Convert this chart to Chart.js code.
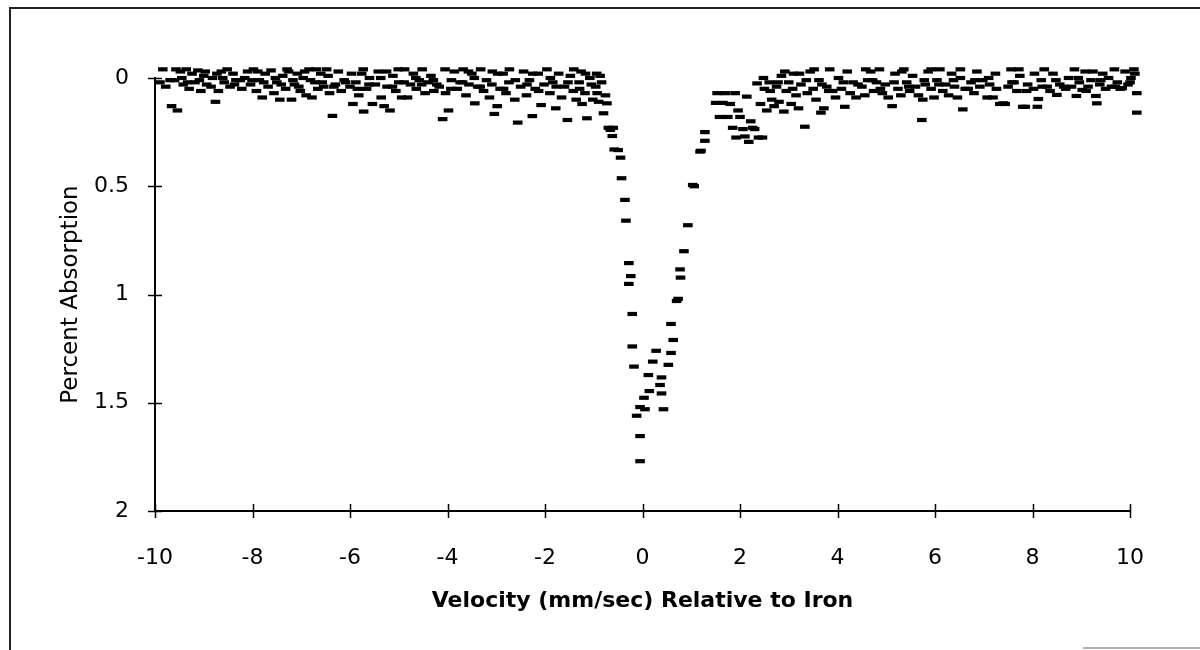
<!DOCTYPE html>
<html>
<head>
<meta charset="utf-8">
<title>Percent Absorption vs Velocity</title>
<script src="https://cdn.jsdelivr.net/npm/chart.js@4.4.1/dist/chart.umd.min.js"></script>
<style>
  html, body { margin: 0; padding: 0; background: #fff; }
  #wrap { width: 1200px; height: 650px; position: relative; }
</style>
</head>
<body>
<div id="wrap"><canvas id="chart" width="1200" height="650"></canvas></div>
<script>
// ===================================
// DATA
// ===================================
const xTicks = [-10, -8, -6, -4, -2, 0, 2, 4, 6, 8, 10];
const yTicks = [0, 0.5, 1, 1.5, 2];

// velocity in mm/sec
const velocity = [
  -9.90, -9.84, -9.78, -9.72, -9.66, -9.60, -9.54, -9.48, -9.42, -9.36,
  -9.30, -9.24, -9.18, -9.12, -9.06, -9.00, -8.94, -8.88, -8.82, -8.76,
  -8.70, -8.64, -8.58, -8.52, -8.46, -8.40, -8.34, -8.28, -8.22, -8.16,
  -8.10, -8.04, -7.98, -7.92, -7.86, -7.80, -7.74, -7.68, -7.62, -7.56,
  -7.50, -7.44, -7.38, -7.32, -7.26, -7.20, -7.14, -7.08, -7.02, -6.96,
  -6.90, -6.84, -6.78, -6.72, -6.66, -6.60, -6.54, -6.48, -6.42, -6.36,
  -6.30, -6.24, -6.18, -6.12, -6.06, -6.00, -5.94, -5.88, -5.82, -5.76,
  -5.72, -5.66, -5.60, -5.54, -5.48, -5.42, -5.36, -5.30, -5.24, -5.18,
  -5.12, -5.06, -5.00, -4.94, -4.88, -4.82, -4.76, -4.70, -4.64, -4.58,
  -4.52, -4.46, -4.40, -4.34, -4.28, -4.22, -4.16, -4.10, -4.04, -3.98,
  -3.92, -3.86, -3.80, -3.74, -3.68, -3.62, -3.56, -3.50, -3.44, -3.38,
  -3.32, -3.26, -3.20, -3.14, -3.08, -3.04, -2.98, -2.92, -2.86, -2.80,
  -2.74, -2.68, -2.62, -2.56, -2.50, -2.44, -2.38, -2.32, -2.26, -2.20,
  -2.14, -2.08, -2.02, -1.96, -1.90, -1.84, -1.78, -1.72, -1.66, -1.60,
  -1.54, -1.48, -1.42, -1.36, -1.30, -1.26, -1.24, -1.18, -1.14, -1.08,
  -1.02, -0.96, -0.94, -0.90, -0.84, -0.80, -0.76, -0.73, -0.70, -0.66,
  -0.62, -0.60, -0.58, -0.50, -0.45, -0.43, -0.36, -0.34, -0.28, -0.24,
  -0.28, -0.21, -0.21, -0.175, -0.12, -0.05, -0.05, -0.05, 0.03, 0.05,
  0.12, 0.14, 0.21, 0.28, 0.36, 0.39, 0.39, 0.43, 0.53, 0.585,
  0.585, 0.63, 0.70, 0.73, 0.77, 0.78, 0.85, 0.93, 1.03, 1.06,
  1.18, 1.20, 1.28, 1.28, 1.50, 1.53, 1.58, 1.65, 1.70, 1.75,
  1.80, 1.85, 1.90, 1.92, 1.96, 2.00, 2.06, 2.10, 2.14, 2.18,
  2.22, 2.26, 2.30, 2.35, 2.38, 2.42, 2.46, 2.50, 2.55, 2.60,
  2.65, 2.70, 2.75, 2.80, 2.85, 2.90, 2.95, 3.00, 3.05, 3.10,
  3.15, 3.20, 3.25, 3.33, 3.38, 3.44, 3.50, 3.56, 3.62, 3.66,
  3.72, 3.78, 3.84, 3.90, 3.96, 4.02, 4.08, 4.15, 4.20, 4.26,
  4.32, 4.38, 4.44, 4.50, 4.56, 4.62, 4.68, 4.74, 4.80, 4.86,
  4.92, 4.98, 5.04, 5.12, 5.18, 5.24, 5.30, 5.36, 5.42, 5.48,
  5.54, 5.60, 5.66, 5.73, 5.75, 5.80, 5.86, 5.92, 5.98, 6.04,
  6.10, 6.16, 6.22, 6.28, 6.34, 6.40, 6.46, 6.52, 6.57, 6.62,
  6.68, 6.74, 6.80, 6.86, 6.92, 6.98, 7.04, 7.07, 7.12, 7.19,
  7.24, 7.33, 7.40, 7.44, 7.50, 7.56, 7.62, 7.68, 7.74, 7.80,
  7.85, 7.90, 7.96, 8.02, 8.10, 8.12, 8.18, 8.24, 8.30, 8.36,
  8.42, 8.50, 8.56, 8.62, 8.68, 8.74, 8.80, 8.86, 8.90, 8.96,
  9.02, 9.08, 9.14, 9.20, 9.26, 9.30, 9.32, 9.38, 9.44, 9.50,
  9.56, 9.62, 9.68, 9.74, 9.80, 9.84, 9.90, 9.96, 10.02, 10.08,
  10.14, 10.14,
  // overlapping channels in the dense baseline band
  -9.81, -9.69, -9.57, -9.45, -9.33, -9.21, -9.09, -8.97, -8.85, -8.73,
  -8.61, -8.49, -8.37, -8.25, -8.13, -8.01, -7.89, -7.77, -7.65, -7.53,
  -7.41, -7.29, -7.17, -7.05, -6.93, -6.81, -6.69, -6.57, -6.45, -6.33,
  -6.21, -6.09, -5.97, -5.85, -5.73, -5.61, -5.49, -5.37, -5.25, -5.13,
  -5.01, -4.89, -4.77, -4.65, -4.53, -4.41, -4.29, -4.17, -4.05, -3.93,
  -3.81, -3.69, -3.57, -3.45, -3.33, -3.21, -3.09, -2.97, -2.85, -2.73,
  -2.61, -2.49, -2.37, -2.25, -2.13, -2.01, -1.89, -1.77, -1.65, -1.53,
  -1.41, -1.29, -1.17, -1.05, -0.93, -0.87,
  2.48, 2.62, 2.78, 2.92, 3.08, 3.22, 3.36, 3.52, 3.68, 3.82,
  3.98, 4.12, 4.28, 4.42, 4.58, 4.72, 4.88, 5.02, 5.16, 5.32,
  5.46, 5.62, 5.78, 5.92, 6.08, 6.22, 6.38, 6.52, 6.68, 6.82,
  6.96, 7.10, 7.26, 7.42, 7.58, 7.72, 7.88, 8.04, 8.20, 8.34,
  8.48, 8.64, 8.78, 8.94, 9.10, 9.24, 9.40, 9.54, 9.70, 9.86,
  10.00, 10.10
];

// percent absorption (axis runs downward)
const absorption = [
  0.02, -0.04, 0.04, -0.045, 0.13, 0.01, 0.15, -0.03, 0.03, -0.04,
  0.05, -0.02, 0.02, -0.035, 0.06, -0.01, 0.03, -0.045, 0.00, 0.11,
  0.06, -0.03, 0.02, -0.04, 0.04, -0.02, 0.01, -0.045, 0.05, 0.00,
  -0.03, 0.03, -0.04, 0.06, 0.01, 0.09, -0.02, 0.04, -0.035, 0.07,
  0.02, 0.10, -0.01, 0.05, -0.03, 0.10, 0.03, -0.02, 0.06, 0.00,
  0.08, -0.04, 0.09, 0.02, 0.05, -0.02, 0.04, -0.04, 0.07, 0.175,
  0.03, -0.03, 0.06, 0.01, -0.045, 0.04, 0.12, 0.02, 0.08, -0.02,
  0.155, 0.05, 0.00, 0.12, 0.03, -0.03, 0.09, 0.13, 0.04, 0.15,
  -0.01, 0.06, 0.02, 0.09, -0.04, 0.09, 0.03, -0.02, 0.05, 0.01,
  -0.04, 0.07, 0.02, -0.01, 0.06, 0.03, -0.045, 0.19, 0.07, 0.15,
  0.01, -0.03, 0.05, 0.02, -0.04, 0.08, 0.03, -0.02, 0.117, 0.04,
  -0.04, 0.06, 0.01, 0.09, -0.03, 0.166, 0.13, 0.05, -0.02, 0.07,
  0.02, -0.045, 0.10, 0.206, 0.04, -0.03, 0.08, 0.01, 0.176, 0.05,
  -0.02, 0.125, 0.03, -0.04, 0.07, 0.02, 0.14, -0.02, 0.09, 0.04,
  0.194, -0.01, 0.06, 0.10, 0.02, -0.03, 0.12, 0.07, 0.186, 0.00,
  0.10, 0.04, -0.02, 0.11, 0.02, 0.163, 0.08, 0.117, 0.23, 0.24,
  0.268, 0.23, 0.33, 0.333, 0.368, 0.463, 0.563, 0.659, 0.855, 0.915,
  0.951, 1.09, 1.24, 1.333, 1.56, 1.52, 1.654, 1.77, 1.477, 1.53,
  1.372, 1.446, 1.31, 1.26, 1.418, 1.383, 1.457, 1.53, 1.325, 1.136,
  1.27, 1.21, 1.03, 1.02, 0.884, 0.922, 0.80, 0.68, 0.494, 0.50,
  0.34, 0.336, 0.29, 0.25, 0.115, 0.07, 0.18, 0.115, 0.07, 0.18,
  0.12, 0.23, 0.07, 0.275, 0.15, 0.18, 0.236, 0.27, 0.086, 0.295,
  0.20, 0.23, 0.236, 0.025, 0.275, 0.12, 0.275, 0.05, 0.15, 0.02,
  0.10, 0.13, 0.04, 0.11, -0.01, 0.155, 0.06, 0.02, 0.12, -0.02,
  0.08, 0.14, 0.03, 0.225, 0.07, -0.03, 0.05, 0.10, 0.01, 0.16,
  0.14, 0.04, -0.04, 0.06, 0.09, 0.00, 0.05, 0.133, -0.03, 0.07,
  0.02, 0.09, -0.045, 0.04, 0.08, 0.01, -0.03, 0.06, 0.02, -0.04,
  0.07, 0.03, 0.09, 0.13, -0.02, 0.05, 0.08, -0.04, 0.02, 0.06,
  -0.01, 0.04, 0.08, 0.194, 0.10, 0.03, -0.03, 0.05, 0.09, 0.01,
  -0.04, 0.06, 0.03, 0.08, -0.02, 0.04, 0.09, 0.00, 0.145, 0.05,
  -0.05, 0.02, 0.07, -0.03, 0.04, 0.01, -0.05, 0.09, 0.03, 0.09,
  -0.02, 0.12, 0.117, 0.12, 0.04, -0.04, 0.02, 0.06, -0.01, 0.133,
  0.133, 0.03, -0.05, 0.05, 0.133, 0.097, 0.01, -0.04, 0.04, 0.06,
  -0.02, 0.078, 0.03, -0.05, 0.05, 0.00, 0.04, -0.04, 0.083, 0.02,
  0.055, -0.03, 0.04, 0.01, -0.05, 0.083, 0.117, 0.03, -0.02, 0.05,
  0.00, 0.04, -0.04, 0.02, 0.05, 0.047, -0.03, 0.03, 0.00, -0.04,
  0.07, 0.16,
  // overlapping channels in the dense baseline band
  -0.05, 0.01, -0.04, 0.00, 0.02, -0.05, 0.01, -0.03, 0.04, -0.02,
  0.00, -0.05, 0.03, 0.01, -0.05, 0.01, -0.03, 0.02, -0.05, 0.00,
  0.03, -0.04, 0.01, 0.04, -0.03, 0.01, -0.04, 0.02, -0.01, 0.04,
  -0.05, 0.02, -0.02, 0.05, -0.04, 0.03, -0.05, 0.00, -0.03, 0.04,
  -0.04, 0.02, -0.05, 0.00, 0.03, -0.05, 0.01, 0.04, -0.04, 0.05,
  -0.05, 0.02, -0.03, 0.00, 0.04, -0.05, 0.03, -0.02, 0.05, -0.04,
  0.01, -0.05, 0.03, -0.02, 0.06, -0.05, 0.00, 0.04, -0.05, 0.02,
  -0.04, 0.05, -0.02, 0.03, 0.07, -0.01,
  0.00, 0.06, 0.02, -0.03, 0.05, -0.02, 0.01, -0.04, 0.03, 0.06,
  -0.05, 0.02, -0.05, 0.03, -0.04, 0.01, 0.05, -0.05, 0.02, -0.03,
  0.04, -0.05, 0.01, -0.04, 0.03, -0.05, 0.01, -0.04, 0.05, 0.01,
  -0.05, 0.00, 0.05, -0.05, 0.02, -0.04, 0.06, -0.02, 0.04, -0.05,
  0.01, 0.04, -0.05, 0.00, 0.06, -0.03, 0.01, -0.05, 0.04, -0.05,
  0.02, -0.02
];

// ===================================
// CHART
// ===================================
const points = velocity.map((v, i) => ({ x: v, y: absorption[i] }));

// tick marks that cross the axis lines, plus the scanned page frame
const crossTicks = {
  id: 'crossTicks',
  afterDraw(chart) {
    const ctx = chart.ctx;
    const xs = chart.scales.x;
    const ys = chart.scales.y;
    const area = chart.chartArea;
    ctx.save();
    ctx.strokeStyle = '#000';
    ctx.lineWidth = 1.5;
    ctx.beginPath();
    xTicks.forEach(t => {
      const px = Math.round(xs.getPixelForValue(t)) + 0.5;
      ctx.moveTo(px, area.bottom - 7);
      ctx.lineTo(px, area.bottom + 7);
    });
    yTicks.forEach(t => {
      const py = Math.round(ys.getPixelForValue(t)) + 0.5;
      ctx.moveTo(area.left - 7, py);
      ctx.lineTo(area.left + 7, py);
    });
    ctx.stroke();

    // page frame (left and top edges of the scan)
    ctx.lineWidth = 2;
    ctx.strokeStyle = '#222';
    ctx.beginPath();
    ctx.moveTo(10, 650);
    ctx.lineTo(10, 8);
    ctx.lineTo(1200, 8);
    ctx.stroke();
    ctx.strokeStyle = '#999';
    ctx.lineWidth = 1.5;
    ctx.beginPath();
    ctx.moveTo(1083, 648);
    ctx.lineTo(1200, 648);
    ctx.stroke();
    ctx.restore();
  }
};

const tickFont = { family: 'DejaVu Sans', size: 22 };

new Chart(document.getElementById('chart'), {
  type: 'scatter',
  data: {
    datasets: [{
      data: points,
      pointStyle: 'line',
      pointRadius: 4.8,
      pointHoverRadius: 4.8,
      borderWidth: 4.2,
      borderColor: '#000',
      backgroundColor: '#000',
      clip: false
    }]
  },
  options: {
    responsive: false,
    animation: false,
    events: [],
    layout: { padding: { left: 0, top: 78, right: 70, bottom: 0 } },
    plugins: {
      legend: { display: false },
      tooltip: { enabled: false }
    },
    scales: {
      x: {
        type: 'linear',
        min: -10,
        max: 10,
        afterFit: s => { s.height = 139; },
        afterBuildTicks: s => { s.ticks = xTicks.map(v => ({ value: v })); },
        grid: { display: false },
        border: { display: true, color: '#000', width: 2 },
        ticks: { color: '#000', font: tickFont, padding: 26, maxRotation: 0, callback: v => String(v) },
        title: {
          display: true,
          text: 'Velocity (mm/sec) Relative to Iron',
          color: '#000',
          font: { family: 'DejaVu Sans', size: 22, weight: 'bold' },
          padding: { top: 0, bottom: 36 }
        }
      },
      y: {
        type: 'linear',
        reverse: true,
        min: 0,
        max: 2,
        afterFit: s => { s.width = 155; },
        afterBuildTicks: s => { s.ticks = yTicks.map(v => ({ value: v })); },
        grid: { display: false },
        border: { display: true, color: '#000', width: 2 },
        ticks: { color: '#000', font: tickFont, padding: 18, callback: v => String(v) },
        title: {
          display: true,
          text: 'Percent Absorption',
          color: '#000',
          font: { family: 'DejaVu Sans', size: 23 },
          padding: { top: 57, bottom: 0 }
        }
      }
    }
  },
  plugins: [crossTicks]
});
</script>
</body>
</html>
